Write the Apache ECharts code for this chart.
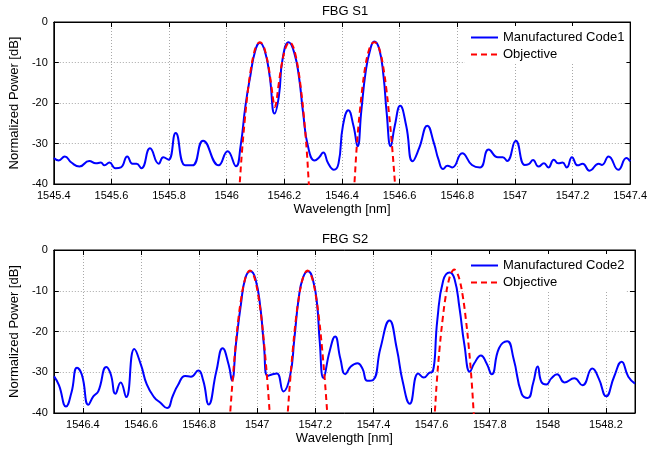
<!DOCTYPE html>
<html><head><meta charset="utf-8">
<script src="https://cdn.jsdelivr.net/npm/echarts@6/dist/echarts.min.js"></script>
<style>html,body{margin:0;padding:0;background:#fff}#c{width:650px;height:449px}</style>
</head><body><div id="c"></div>
<script>
// ---------- FBG S1 ----------
const s1Wavelength = [1545.400,1545.417,1545.438,1545.461,1545.489,1545.523,1545.546,1545.563,1545.576,1545.593,1545.614,1545.633,1545.655,1545.673,1545.687,1545.704,1545.734,1545.764,1545.780,1545.798,1545.823,1545.856,1545.881,1545.918,1545.972,1546.003,1546.032,1546.048,1546.065,1546.082,1546.099,1546.115,1546.132,1546.149,1546.166,1546.181,1546.194,1546.215,1546.234,1546.251,1546.265,1546.282,1546.305,1546.321,1546.335,1546.352,1546.372,1546.388,1546.403,1546.422,1546.440,1546.454,1546.467,1546.482,1546.497,1546.512,1546.529,1546.544,1546.555,1546.569,1546.583,1546.602,1546.623,1546.645,1546.668,1546.696,1546.719,1546.735,1546.751,1546.766,1546.783,1546.817,1546.851,1546.879,1546.909,1546.941,1546.958,1546.973,1547.003,1547.034,1547.048,1547.063,1547.082,1547.101,1547.116,1547.135,1547.150,1547.165,1547.180,1547.198,1547.218,1547.235,1547.259,1547.291,1547.302,1547.325,1547.359,1547.387,1547.400];
const s1Power = [-33.6,-34.2,-33.2,-34.7,-35.7,-34.3,-34.9,-34.7,-35.4,-34.7,-36.1,-35.9,-33.2,-35.0,-35.0,-36.1,-31.2,-35.0,-33.4,-34.0,-27.4,-35.4,-35.4,-29.3,-35.4,-31.9,-35.6,-30.7,-20.7,-13.3,-7.1,-5.1,-7.1,-13.3,-22.6,-18.3,-9.1,-5.0,-7.5,-13.7,-22.4,-30.7,-34.2,-33.4,-32.2,-34.9,-36.5,-34.9,-25.7,-21.8,-25.7,-30.7,-22.0,-12.4,-7.1,-4.8,-6.6,-13.3,-22.4,-30.7,-25.7,-20.7,-25.7,-34.4,-31.1,-25.6,-29.9,-34.0,-36.3,-35.5,-35.9,-32.4,-35.3,-35.9,-31.5,-33.4,-33.4,-34.3,-29.3,-35.3,-35.1,-34.1,-35.7,-34.9,-35.9,-34.0,-34.9,-34.7,-35.9,-33.4,-35.4,-35.0,-36.7,-35.0,-35.3,-33.2,-36.5,-33.6,-34.4];
const s1ObjWavelength = [1546.038,1546.045,1546.053,1546.063,1546.073,1546.083,1546.093,1546.103,1546.115,1546.125,1546.135,1546.145,1546.155,1546.162,1546.167,1546.172,1546.180,1546.190,1546.200,1546.209,1546.218,1546.228,1546.238,1546.248,1546.258,1546.268,1546.278,1546.285,1546.292,1546.360,1546.436,1546.443,1546.452,1546.462,1546.472,1546.482,1546.492,1546.502,1546.513,1546.523,1546.533,1546.543,1546.553,1546.563,1546.573,1546.584,1546.591];
const s1ObjPower = [-47,-40,-32,-24,-17.2,-12,-8.2,-5.9,-5.0,-5.6,-7.6,-11,-15.8,-19.5,-21.0,-19.8,-15.5,-10.8,-7.4,-5.6,-5.0,-5.7,-7.9,-11.6,-16.8,-23.5,-32,-40,-47,null,-47,-40,-30,-22,-15.5,-10.5,-7.3,-5.5,-5.0,-5.6,-7.5,-11,-16,-22.5,-30,-40,-47];
const s1Ticks = [1545.4,1545.6,1545.8,1546.0,1546.2,1546.4,1546.6,1546.8,1547.0,1547.2,1547.4];

// ---------- FBG S2 ----------
const s2Wavelength = [1546.301,1546.318,1546.342,1546.361,1546.380,1546.397,1546.419,1546.436,1546.453,1546.481,1546.496,1546.512,1546.530,1546.549,1546.577,1546.600,1546.620,1546.645,1546.667,1546.690,1546.710,1546.727,1546.752,1546.772,1546.797,1546.814,1546.833,1546.859,1546.881,1546.902,1546.913,1546.927,1546.944,1546.960,1546.977,1546.994,1547.011,1547.023,1547.036,1547.053,1547.068,1547.090,1547.113,1547.128,1547.143,1547.158,1547.175,1547.192,1547.206,1547.215,1547.228,1547.249,1547.268,1547.286,1547.303,1547.322,1547.345,1547.362,1547.379,1547.399,1547.424,1547.455,1547.480,1547.501,1547.525,1547.554,1547.573,1547.593,1547.604,1547.620,1547.640,1547.662,1547.679,1547.696,1547.713,1547.732,1547.747,1547.770,1547.789,1547.807,1547.832,1547.860,1547.882,1547.910,1547.931,1547.950,1547.965,1547.978,1547.995,1548.012,1548.032,1548.057,1548.091,1548.119,1548.153,1548.175,1548.201,1548.228,1548.254,1548.277,1548.300];
const s2Power = [-31.0,-33.2,-38.4,-34.9,-28.9,-30.7,-38.0,-35.9,-34.7,-28.7,-30.5,-35.3,-32.5,-36.1,-24.3,-28.2,-33.0,-36.1,-37.5,-38.8,-35.7,-33.2,-30.9,-31.1,-29.6,-32.0,-37.9,-29.9,-24.1,-28.2,-32.0,-23.0,-13.3,-6.7,-5.2,-7.1,-14.2,-23.3,-30.9,-30.5,-30.3,-34.7,-30.9,-21.6,-11.7,-6.7,-5.2,-7.4,-13.3,-22.4,-31.4,-24.9,-21.2,-26.6,-30.5,-28.6,-27.8,-29.1,-32.1,-31.9,-24.1,-17.3,-24.1,-32.4,-37.7,-30.3,-31.3,-30.1,-29.9,-17.0,-7.5,-5.5,-7.1,-14.2,-23.3,-29.9,-27.8,-25.9,-27.8,-30.5,-24.1,-22.4,-26.6,-35.3,-36.3,-32.5,-28.6,-32.4,-33.0,-31.5,-30.5,-32.5,-31.5,-33.2,-29.1,-31.5,-35.9,-31.1,-27.4,-31.1,-32.8];
const s2ObjWavelength = [1546.900,1546.907,1546.915,1546.925,1546.935,1546.945,1546.955,1546.965,1546.975,1546.985,1546.995,1547.005,1547.015,1547.025,1547.035,1547.043,1547.050,1547.075,1547.098,1547.105,1547.113,1547.123,1547.133,1547.143,1547.153,1547.163,1547.173,1547.183,1547.193,1547.203,1547.213,1547.223,1547.233,1547.241,1547.248,1547.420,1547.603,1547.611,1547.618,1547.628,1547.638,1547.648,1547.658,1547.668,1547.678,1547.688,1547.698,1547.708,1547.718,1547.728,1547.738,1547.745,1547.752];
const s2ObjPower = [-47,-40,-32.3,-24,-17,-11.8,-8,-5.8,-5,-5.8,-8,-11.8,-17,-24,-32.3,-40,-47,null,-47,-40,-32.3,-24,-17,-11.8,-8,-5.8,-5,-5.8,-8,-11.8,-17,-24,-32.3,-40,-47,null,-47,-40,-32.3,-23.8,-17,-11.6,-7.8,-5.6,-4.8,-5.6,-7.8,-11.6,-17,-23.8,-32.3,-40,-47];
const s2Ticks = [1546.4,1546.6,1546.8,1547.0,1547.2,1547.4,1547.6,1547.8,1548.0,1548.2];

const yTicks = [-40,-30,-20,-10,0];
const titles = ['FBG S1','FBG S2'];
const seriesNames = [['Manufactured Code1','Objective'],['Manufactured Code2','Objective']];

const FONT = '"Liberation Sans", Arial, Helvetica, sans-serif';
const zip = (xs, ys) => xs.map((x, i) => [x, ys[i] === null ? '-' : ys[i]]);
const fmtX = v => String(+(+v).toFixed(1));

const grids = [
  {left: 45, top: 22, width: 590, height: 162},
  {left: 45, top: 250, width: 590, height: 163}
];
const ranges = [[1545.4, 1547.4, s1Ticks], [1546.3, 1548.3, s2Ticks]];

const xAxes = [], yAxes = [];
ranges.forEach(([mn, mx, ticks], g) => {
  xAxes.push({
    type: 'value', gridIndex: g, min: mn, max: mx, position: 'bottom',
    axisLine: {show: true, onZero: false, lineStyle: {color: '#000', width: 1}},
    axisTick: {show: true, inside: true, length: 5, lineStyle: {color: '#000'}, customValues: ticks},
    axisLabel: {color: '#000', fontSize: 11, fontFamily: FONT, margin: 6, formatter: fmtX, customValues: ticks},
    splitLine: {show: true, lineStyle: {color: '#a8a8a8', width: 1, type: [1, 2]}},
    name: 'Wavelength [nm]', nameLocation: 'middle', nameGap: 19,
    nameTextStyle: {color: '#000', fontSize: 13, fontFamily: FONT}
  });
  xAxes.push({
    type: 'value', gridIndex: g, min: mn, max: mx, position: 'top',
    axisLine: {show: true, onZero: false, lineStyle: {color: '#000', width: 1}},
    axisTick: {show: true, inside: true, length: 5, lineStyle: {color: '#000'}, customValues: ticks},
    axisLabel: {show: false, customValues: ticks},
    splitLine: {show: false}
  });
  yAxes.push({
    type: 'value', gridIndex: g, min: -40, max: 0, interval: 10, position: 'left',
    axisLine: {show: true, onZero: false, lineStyle: {color: '#000', width: 1}},
    axisTick: {show: true, inside: true, length: 5, lineStyle: {color: '#000'}},
    axisLabel: {color: '#000', fontSize: 11, fontFamily: FONT, margin: 6},
    splitLine: {show: true, lineStyle: {color: '#a8a8a8', width: 1, type: [1, 2]}},
    name: 'Normalized Power [dB]', nameLocation: 'middle', nameGap: 25,
    nameTextStyle: {color: '#000', fontSize: 13, fontFamily: FONT}
  });
  yAxes.push({
    type: 'value', gridIndex: g, min: -40, max: 0, interval: 10, position: 'right',
    axisLine: {show: true, onZero: false, lineStyle: {color: '#000', width: 1}},
    axisTick: {show: true, inside: true, length: 5, lineStyle: {color: '#000'}},
    axisLabel: {show: false},
    splitLine: {show: false}
  });
});

const measured = [[s1Wavelength, s1Power], [s2Wavelength, s2Power]];
const objective = [[s1ObjWavelength, s1ObjPower], [s2ObjWavelength, s2ObjPower]];
const series = [];
[0, 1].forEach(g => {
  series.push({
    type: 'line', name: seriesNames[g][0], xAxisIndex: g * 2, yAxisIndex: g * 2,
    data: zip(measured[g][0], measured[g][1]), symbol: 'none', showSymbol: false,
    smooth: 0.5, lineStyle: {color: '#0000ff', width: 2}, itemStyle: {color: '#0000ff'}, z: 2
  });
  series.push({
    type: 'line', name: seriesNames[g][1], xAxisIndex: g * 2, yAxisIndex: g * 2,
    data: zip(objective[g][0], objective[g][1]), symbol: 'none', showSymbol: false, connectNulls: false,
    smooth: 0.4, lineStyle: {color: '#ff0000', width: 2, type: [6, 4]}, itemStyle: {color: '#ff0000'}, z: 3
  });
});

const legendBase = {
  left: 465, orient: 'vertical', itemWidth: 27, itemHeight: 14, itemGap: 4, backgroundColor: '#fff',
  padding: [5, 2, 3, 5], selectedMode: false,
  itemStyle: {opacity: 0},
  textStyle: {fontSize: 13, color: '#000', fontFamily: FONT}
};

const chart = echarts.init(document.getElementById('c'), null, {renderer: 'canvas'});
chart.setOption({
  animation: false,
  backgroundColor: '#fff',
  textStyle: {fontFamily: FONT},
  title: [
    {text: titles[0], left: 340, textAlign: 'center', top: 0, textStyle: {fontSize: 13, fontWeight: 'normal', color: '#000', fontFamily: FONT}},
    {text: titles[1], left: 340, textAlign: 'center', top: 228, textStyle: {fontSize: 13, fontWeight: 'normal', color: '#000', fontFamily: FONT}}
  ],
  legend: [
    Object.assign({top: 26, data: seriesNames[0]}, legendBase),
    Object.assign({top: 254, data: seriesNames[1]}, legendBase)
  ],
  grid: grids.map(g => Object.assign({show: true, borderColor: '#000', borderWidth: 1, backgroundColor: 'transparent'}, g)),
  xAxis: xAxes,
  yAxis: yAxes,
  series: series
});
</script>
</body></html>
